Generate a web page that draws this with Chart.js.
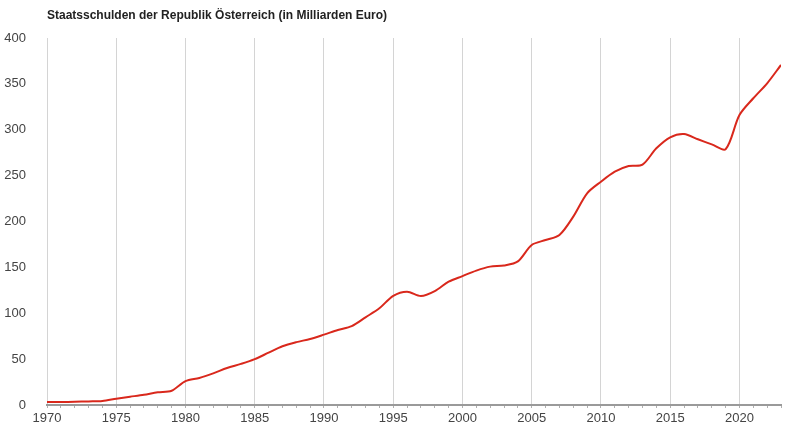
<!DOCTYPE html>
<html>
<head>
<meta charset="utf-8">
<script src="https://cdn.jsdelivr.net/npm/chart.js@4/dist/chart.umd.min.js"></script>
<style>
    html, body { margin: 0; padding: 0; background: #fff; }
    #wrap { width: 800px; height: 442px; position: relative; }
</style>
</head>
<body>
<div id="wrap"><canvas id="chart"></canvas></div>
<script>
(function() {
    'use strict';

    // Title and years
    const TITLE = 'Staatsschulden der Republik Österreich (in Milliarden Euro)';
    const years = [
        1970, 1971, 1972, 1973, 1974, 1975, 1976, 1977, 1978, 1979,
        1980, 1981, 1982, 1983, 1984, 1985, 1986, 1987, 1988, 1989,
        1990, 1991, 1992, 1993, 1994, 1995, 1996, 1997, 1998, 1999,
        2000, 2001, 2002, 2003, 2004, 2005, 2006, 2007, 2008, 2009,
        2010, 2011, 2012, 2013, 2014, 2015, 2016, 2017, 2018, 2019,
        2020, 2021, 2022, 2023
    ];

    // Debt in billions of euro
    const debt = [
        3.2, 3.3, 3.5, 3.9, 4.4, 6.8, 9.0, 11.2, 13.8, 15.5,
        26.0, 29.5, 34.5, 40.3, 44.8, 50.0, 57.0, 64.0, 68.5, 72.0,
        76.7, 81.7, 86.0, 95.6, 105.4, 119.0, 123.5, 118.8, 124.2, 134.4,
        140.5, 146.5, 150.8, 152.0, 156.5, 174.4, 179.8, 185.3, 205.3, 230.7,
        243.4, 254.3, 260.5, 262.0, 279.8, 291.8, 295.4, 289.6, 284.1, 278.7,
        316.0, 334.3, 350.6, 370.6
    ];

    const yTicks = [0, 50, 100, 150, 200, 250, 300, 350, 400];

    const labelFont = { family: 'Arial, "Liberation Sans", sans-serif', size: 13 };

    // Draw the title left-aligned over the plot
    const titlePlugin = {
        id: 'leftTitle',
        afterDraw(chart) {
            const ctx = chart.ctx;
            ctx.save();
            ctx.font = 'bold 12px Arial, "Liberation Sans", sans-serif';
            ctx.fillStyle = '#222';
            ctx.textBaseline = 'middle';
            ctx.fillText(TITLE, chart.chartArea.left, 16);
            ctx.restore();
        }
    };

    new Chart(document.getElementById('chart'), {
        type: 'line',
        data: {
            datasets: [{
                data: years.map((y, i) => ({ x: y, y: debt[i] })),
                borderColor: '#d9281c',
                borderWidth: 2,
                pointRadius: 0,
                tension: 0.3,
                fill: false
            }]
        },
        options: {
            responsive: true,
            maintainAspectRatio: false,
            animation: false,
            layout: { padding: { top: 38, right: 19, left: 0, bottom: 0 } },
            plugins: {
                legend: { display: false },
                tooltip: { enabled: false },
                title: { display: false }
            },
            scales: {
                x: {
                    type: 'linear',
                    min: years[0],
                    max: years[years.length - 1],
                    afterBuildTicks(axis) {
                        axis.ticks = years.map(v => ({ value: v }));
                    },
                    afterFit(axis) { axis.height = 37; },
                    grid: {
                        color: ctx => (ctx.tick && ctx.tick.value % 5 === 0) ? '#d4d4d4' : 'rgba(0,0,0,0)',
                        tickColor: '#b0b0b0',
                        tickLength: 3,
                        lineWidth: 1
                    },
                    border: { color: '#9a9a9a', width: 2 },
                    ticks: {
                        autoSkip: false,
                        maxRotation: 0,
                        padding: 3,
                        color: '#444',
                        font: labelFont,
                        callback: v => (v % 5 === 0 ? String(v) : '')
                    }
                },
                y: {
                    min: 0,
                    max: 400,
                    afterBuildTicks(axis) {
                        axis.ticks = yTicks.map(v => ({ value: v }));
                    },
                    afterFit(axis) { axis.width = 47; },
                    grid: { display: false },
                    border: { display: false },
                    ticks: {
                        padding: 13,
                        color: '#444',
                        font: labelFont
                    }
                }
            }
        },
        plugins: [titlePlugin]
    });
})();
</script>
</body>
</html>
